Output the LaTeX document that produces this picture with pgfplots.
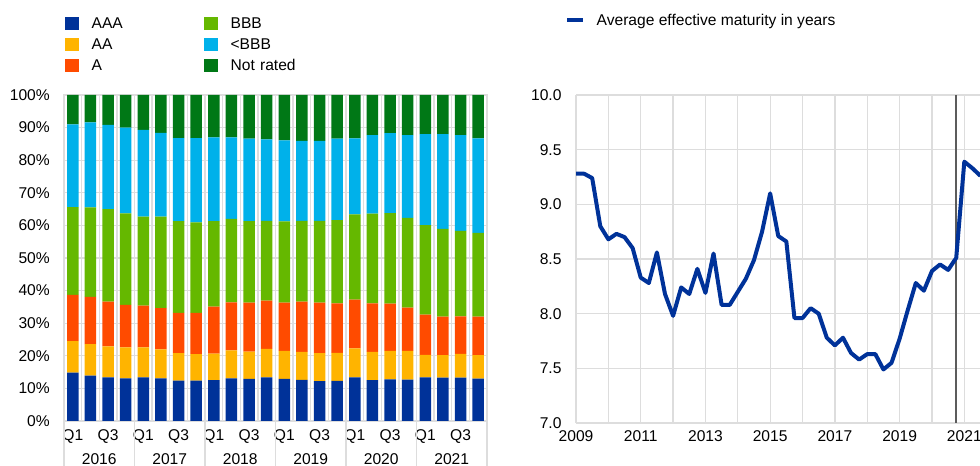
\documentclass[border=0pt]{standalone}
\usepackage{pgfplots}
\pgfplotsset{compat=1.18}
\usepackage{pgfplotstable}
\usepackage{fontspec}
\setmainfont{Liberation Sans}
\definecolor{caaa}{HTML}{003299}
\definecolor{caa}{HTML}{FFB400}
\definecolor{ca}{HTML}{FF4B00}
\definecolor{cbbb}{HTML}{65B800}
\definecolor{csub}{HTML}{00B1EA}
\definecolor{cnr}{HTML}{007816}
\definecolor{cline}{HTML}{003299}
\definecolor{vgrey}{HTML}{5C5C5C}
\definecolor{gridgrey}{HTML}{DDDDDD}
\newcommand\cf{\fontsize{11.7}{14}\selectfont}
\pgfplotsset{sqlegend/.style={legend image code/.code={\fill[##1, draw=none] (0pt,-1.2pt) rectangle (10.5pt,8.5pt); \path[draw=none, fill=none] (0pt,0pt) -- (20pt,0pt);}}}

\pgfplotstableread{
x AAA AA A BBB sub NR
0 14.8 9.7 14.2 26.9 25.4 9.0
1 13.9 9.7 14.5 27.4 26.1 8.4
2 13.4 9.5 13.7 28.4 25.8 9.2
3 13.1 9.5 13.0 28.1 26.3 10.0
4 13.4 9.2 12.8 27.3 26.6 10.7
5 13.1 8.9 12.6 28.1 25.7 11.6
6 12.4 8.4 12.4 28.1 25.5 13.2
7 12.4 8.1 12.7 27.7 25.9 13.2
8 12.5 8.2 14.4 26.2 25.7 13.0
9 13.1 8.6 14.7 25.6 25.0 13.0
10 12.9 8.4 15.0 25.0 25.3 13.4
11 13.4 8.7 14.8 24.5 25.0 13.6
12 12.9 8.6 14.8 24.9 24.9 13.9
13 12.6 8.6 15.4 24.8 24.5 14.1
14 12.2 8.6 15.5 25.1 24.5 14.1
15 12.3 8.6 15.2 25.5 25.0 13.4
16 13.4 8.9 14.9 26.2 23.3 13.3
17 12.5 8.7 14.9 27.5 24.1 12.3
18 12.8 8.7 14.5 27.8 24.5 11.7
19 12.7 8.8 13.3 27.5 25.4 12.3
20 13.4 6.9 12.3 27.5 27.9 12.0
21 13.3 6.9 11.8 26.9 29.1 12.0
22 13.3 7.3 11.5 26.2 29.4 12.3
23 13.0 7.2 11.8 25.7 29.0 13.3
}\ratings

\pgfplotstableread{
x y
2009.00 9.28
2009.25 9.28
2009.50 9.24
2009.75 8.80
2010.00 8.68
2010.25 8.73
2010.50 8.70
2010.75 8.60
2011.00 8.33
2011.25 8.28
2011.50 8.56
2011.75 8.18
2012.00 7.98
2012.25 8.24
2012.50 8.18
2012.75 8.41
2013.00 8.19
2013.25 8.55
2013.50 8.08
2013.75 8.08
2014.00 8.20
2014.25 8.32
2014.50 8.49
2014.75 8.75
2015.00 9.10
2015.25 8.71
2015.50 8.66
2015.75 7.96
2016.00 7.96
2016.25 8.05
2016.50 8.00
2016.75 7.78
2017.00 7.71
2017.25 7.78
2017.50 7.64
2017.75 7.58
2018.00 7.63
2018.25 7.63
2018.50 7.49
2018.75 7.55
2019.00 7.77
2019.25 8.03
2019.50 8.28
2019.75 8.21
2020.00 8.39
2020.25 8.45
2020.50 8.40
2020.75 8.51
2021.00 9.39
2021.25 9.33
2021.50 9.26
}\maturity

\begin{document}
\begin{tikzpicture}
\useasboundingbox (0,0) rectangle (735pt,349.5pt);
\begin{axis}[
  at={(48pt,33.75pt)}, anchor=south west,
  scale only axis, width=317.25pt, height=244.5pt,
  ybar stacked, bar width=0.65,
  xmin=-0.5, xmax=23.5, ymin=0, ymax=100,
  xtick={0,...,23},
  xticklabels={Q1,,Q3,,Q1,,Q3,,Q1,,Q3,,Q1,,Q3,,Q1,,Q3,,Q1,,Q3,},
  minor xtick={-0.5,0.5,...,23.5},
  ytick={0,10,...,100},
  yticklabel={\pgfmathprintnumber{\tick}\%},
  /pgf/number format/assume math mode=true,
  major tick length=0pt, minor tick length=0pt,
  ymajorgrids, xminorgrids,
  grid style={draw=gridgrey, line width=1pt},
  minor grid style={draw=gridgrey, line width=1pt},
  axis line style={draw=gridgrey, line width=1pt},
  tick label style={font=\cf},
  yticklabel style={anchor=east, inner sep=0pt, xshift=-10.5pt},
  xticklabel style={anchor=north, inner sep=0pt, yshift=-6.5pt},
  clip=false,
  legend columns=3, transpose legend,
  legend cell align=left,
  legend style={at={(0.0024,1.2402)}, anchor=north west, draw=none, fill=none,
    inner sep=0pt, outer sep=0pt, font=\cf, row sep=5.5pt,
    nodes={inner sep=0pt, text width=84.2pt, text height=8.5pt, text depth=2pt, anchor=base west}},
]
\addplot[fill=caaa, draw=none, sqlegend] table[x=x, y=AAA]{\ratings};
\addlegendentry{AAA}
\addplot[fill=caa, draw=none, sqlegend] table[x=x, y=AA]{\ratings};
\addlegendentry{AA}
\addplot[fill=ca, draw=none, sqlegend] table[x=x, y=A]{\ratings};
\addlegendentry{A}
\addplot[fill=cbbb, draw=none, sqlegend] table[x=x, y=BBB]{\ratings};
\addlegendentry{BBB}
\addplot[fill=csub, draw=none, sqlegend] table[x=x, y=sub]{\ratings};
\addlegendentry{<BBB}
\addplot[fill=cnr, draw=none, sqlegend] table[x=x, y=NR]{\ratings};
\addlegendentry{Not rated}
\draw[gridgrey, line width=1pt] (axis cs:-0.5,0) -- ++(0pt,-34pt);
\draw[gridgrey, line width=1pt] (axis cs:3.5,0) -- ++(0pt,-34pt);
\draw[gridgrey, line width=1pt] (axis cs:7.5,0) -- ++(0pt,-34pt);
\draw[gridgrey, line width=1pt] (axis cs:11.5,0) -- ++(0pt,-34pt);
\draw[gridgrey, line width=1pt] (axis cs:15.5,0) -- ++(0pt,-34pt);
\draw[gridgrey, line width=1pt] (axis cs:19.5,0) -- ++(0pt,-34pt);
\draw[gridgrey, line width=1pt] (axis cs:23.5,0) -- ++(0pt,-34pt);
\node[anchor=north, inner sep=0pt, font=\cf, yshift=-24pt] at (axis cs:1.5,0) {2016};
\node[anchor=north, inner sep=0pt, font=\cf, yshift=-24pt] at (axis cs:5.5,0) {2017};
\node[anchor=north, inner sep=0pt, font=\cf, yshift=-24pt] at (axis cs:9.5,0) {2018};
\node[anchor=north, inner sep=0pt, font=\cf, yshift=-24pt] at (axis cs:13.5,0) {2019};
\node[anchor=north, inner sep=0pt, font=\cf, yshift=-24pt] at (axis cs:17.5,0) {2020};
\node[anchor=north, inner sep=0pt, font=\cf, yshift=-24pt] at (axis cs:21.5,0) {2021};
\end{axis}

\begin{axis}[
  at={(432pt,32.25pt)}, anchor=south west,
  scale only axis, width=303pt, height=246pt,
  xmin=2009, xmax=2021.485, ymin=7, ymax=10,
  xtick={2009,2011,...,2021}, minor xtick={2010,2012,...,2020},
  ytick={7,7.5,...,10},
  axis x line*=bottom, axis y line*=left,
  major tick length=0pt, minor tick length=0pt,
  xmajorgrids, xminorgrids, ymajorgrids,
  grid style={draw=gridgrey, line width=1pt},
  minor grid style={draw=gridgrey, line width=1pt},
  axis line style={draw=gridgrey, line width=1pt},
  /pgf/number format/assume math mode=true,
  tick label style={font=\cf},
  yticklabel style={anchor=east, inner sep=0pt, xshift=-10.7pt,
    /pgf/number format/.cd, fixed, fixed zerofill, precision=1},
  xticklabel style={anchor=north, inner sep=0pt, yshift=-5.25pt,
    /pgf/number format/1000 sep={}},
  legend cell align=left,
  legend image code/.code={\fill[cline, draw=none] (0pt,2.7pt) rectangle (12.5pt,5.7pt); \path[draw=none, fill=none] (0pt,0pt) -- (22.5pt,0pt);},
  legend style={at={(-0.0231,1.2451)}, anchor=north west, draw=none, fill=none,
    inner sep=0pt, outer sep=0pt, font=\cf,
    nodes={inner sep=0pt, text height=8.5pt, text depth=2pt, anchor=base west}},
]
\addplot[color=vgrey, line width=1.5pt, forget plot] coordinates {(2020.75,7) (2020.75,10)};
\addplot[color=cline, line width=3pt, line join=round, mark=none] table[x=x, y=y]{\maturity};
\addlegendentry{Average effective maturity in years}
\end{axis}
\end{tikzpicture}
\end{document}
